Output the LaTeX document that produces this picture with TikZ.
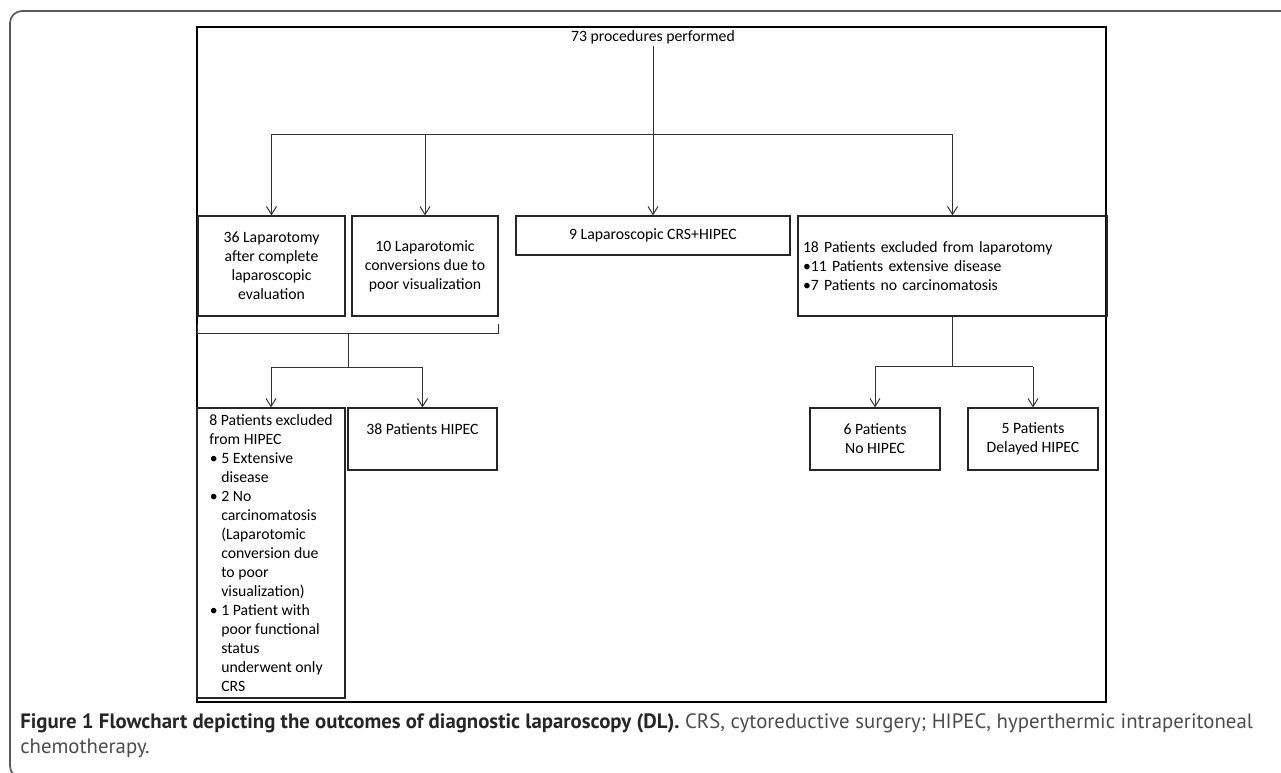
\documentclass[tikz,border=0pt]{standalone}
\usepackage{fontspec}
\setmainfont{Carlito}
\newfontfamily\capfont{PT Sans}
\usepackage{tikz}
\usetikzlibrary{calc}
\usetikzlibrary{arrows.meta}
\def\pxu{0.75pt}
\newcommand{\boxfont}{\fontsize{11.8}{14.25}\selectfont}
\newcommand{\bul}{\makebox[9pt][l]{\hspace*{0.5pt}\textbullet}}
\newcommand{\ind}{\hspace*{9pt}}
\tikzset{
  box/.style={draw=black!85, line width=0.9pt, inner sep=0pt, font=\boxfont},
  link/.style={draw=black!80, line width=0.75pt},
  arr/.style={link, -{Straight Barb[length=6pt,width=7.5pt]}},
}

\begin{document}
\begin{tikzpicture}[x=0.75pt,y=-0.75pt]
\useasboundingbox (0,0) rectangle (1281,772);
% figure frame and picture frame
\draw[black!65,line width=1.3pt,rounded corners=9pt] (1300,11) -- (10,11) -- (10,778) -- (40,778);
\draw[line width=1.6pt] (197,27) rectangle (1106,702);

\node[font=\boxfont, inner sep=1pt, anchor=north] (total) at (653,29) {73 procedures performed};

\node[box, minimum width=147*\pxu, minimum height=100*\pxu, align=center] (lapa) at (271.5,266)
  {36 Laparotomy\\after complete\\laparoscopic\\evaluation};
\node[box, minimum width=146*\pxu, minimum height=100*\pxu, align=center] (conv) at (425,266)
  {10 Laparotomic\\conversions due to\\poor visualization};
\node[box, minimum width=274*\pxu, minimum height=39*\pxu, align=center] (lapcrs) at (653,235.5)
  {9 Laparoscopic CRS+HIPEC};
\node[box, minimum height=100*\pxu, inner xsep=5*\pxu, text width=299*\pxu, align=left] (excl) at (952.5,266)
  {18 Patients excluded from laparotomy\\\textbullet11 Patients extensive disease\\\textbullet7 Patients no carcinomatosis};

\node[box, minimum width=148*\pxu, minimum height=290*\pxu, align=left] (hipexcl) at (271,553)
  {8 Patients excluded\\from HIPEC\\\bul 5 Extensive\\\ind disease\\\bul 2 No\\\ind carcinomatosis\\\ind (Laparotomic\\\ind conversion due\\\ind to poor\\\ind visualization)\\\bul 1 Patient with\\\ind poor functional\\\ind status\\\ind underwent only\\\ind CRS};
\node[box, minimum width=149*\pxu, minimum height=62*\pxu, align=center] (hip38) at (422.5,439)
  {38 Patients HIPEC\\\mbox{}};
\node[box, minimum width=130*\pxu, minimum height=62*\pxu, align=center] (nohip) at (875,439)
  {6 Patients\\No HIPEC};
\node[box, minimum width=130*\pxu, minimum height=62*\pxu, align=center] (delhip) at (1033,439)
  {5 Patients\\Delayed HIPEC};

% first split
\coordinate (split) at (653,134);
\draw[arr] (total.south) -- (lapcrs.north);
\draw[link] (lapa.north |- split) -- (excl.north |- split);
\foreach \n in {lapa,conv,excl} {
  \draw[arr] (\n.north |- split) -- (\n.north);
}

% bracket under the laparotomy boxes
\draw[link] ($(lapa.south west)+(0,7)$) -- ($(lapa.south west)+(0,17)$) -- ($(conv.south east)+(0,17)$) -- ($(conv.south east)+(0,7)$);
\coordinate (mid) at ($(lapa.south west)!0.5!(conv.south east)+(0,17)$);
\coordinate (lsplit) at ($(mid)+(0,34)$);
\draw[link] (mid) -- (lsplit);
\draw[link] (hipexcl.north |- lsplit) -- (hip38.north |- lsplit);
\foreach \n in {hipexcl,hip38} {
  \draw[arr] (\n.north |- lsplit) -- (\n.north);
}

% excluded patients
\coordinate (rsplit) at ($(excl.south)+(0,50)$);
\draw[link] (excl.south) -- (rsplit);
\draw[link] (nohip.north |- rsplit) -- (delhip.north |- rsplit);
\foreach \n in {nohip,delhip} {
  \draw[arr] (\n.north |- rsplit) -- (\n.north);
}

% caption
\node[anchor=base west, inner sep=0pt, font=\capfont\fontsize{15.6}{18}\selectfont, text=black!85] (cap1) at (20,728)
  {\textbf{Figure 1 Flowchart depicting the outcomes of diagnostic laparoscopy (DL).} {\color{black!70}CRS, cytoreductive surgery; HIPEC, hyperthermic intraperitoneal}};
\node[anchor=base west, inner sep=0pt, font=\capfont\fontsize{15.6}{18}\selectfont, text=black!70] (cap2) at (20,753)
  {chemotherapy.};
\end{tikzpicture}
\end{document}
